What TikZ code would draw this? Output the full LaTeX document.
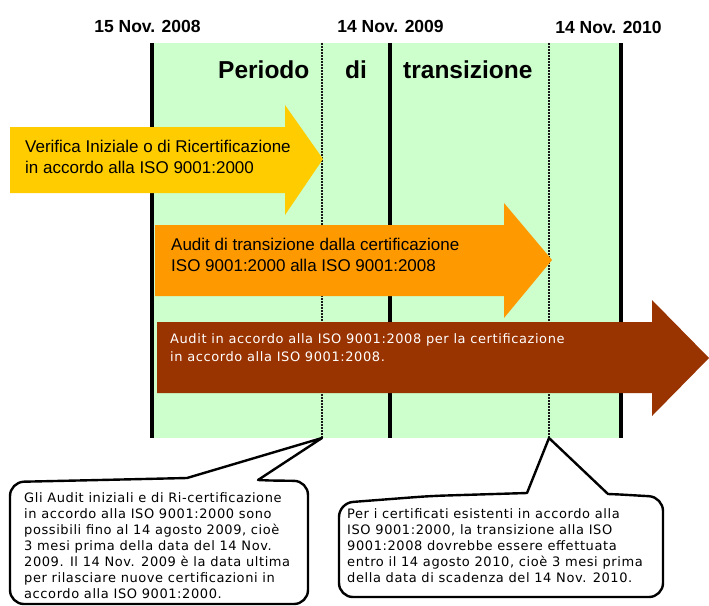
\documentclass[tikz,border=0pt]{standalone}
\usepackage{fontspec}
\setmainfont{Liberation Sans}
\newfontfamily\notefont[LetterSpace=4.5]{DejaVu Sans}
\definecolor{periodgreen}{HTML}{CCFFCC}
\definecolor{verifyyellow}{HTML}{FFCC00}
\definecolor{transorange}{HTML}{FF9900}
\definecolor{auditbrown}{HTML}{993300}

\begin{document}
\begin{tikzpicture}[x=1pt, y=-1pt,
    date/.style={font=\fontsize{17.5}{20}\selectfont\bfseries,
        anchor=base, inner sep=0pt},
    period/.style={font=\fontsize{24.5}{28}\selectfont\bfseries,
        anchor=base west, inner sep=0pt},
    bar/.style={line width=3.5pt, black},
    midline/.style={line width=1.2pt, black!90, dash pattern=on 2pt off 1pt},
    arrowtext/.style={font=\fontsize{17}{21}\selectfont,
        anchor=base west, inner sep=0pt, align=left},
    browntext/.style={font=\notefont\fontsize{13}{18}\selectfont, text=white,
        anchor=base west, inner sep=0pt, align=left},
    callout/.style={draw=black, line width=2.4pt, fill=white, line join=round},
    callouttext/.style={font=\notefont\fontsize{13}{16}\selectfont,
        anchor=base west, inner sep=0pt, align=left}
]
    \useasboundingbox[fill=white] (0,0) rectangle (709,605);

    % period band and date lines
    \fill[periodgreen] (152,43) rectangle (621,438);
    \foreach \x in {152,390,621}
        \draw[bar] (\x,43) -- (\x,438);
    \draw[midline] (322,43) -- (322,438) coordinate (tipA);
    \draw[midline] (549,43) -- (549,438) coordinate (tipB);

    \node[date] (d2008) at (147.5,32) {15 Nov. 2008};
    \node[date] (d2009) at (390.5,32) {14 Nov. 2009};
    \node[date] (d2010) at (608.5,33) {14 Nov. 2010};

    \node[period] (periodo) at (218,78) {Periodo};
    \node[period] (di) at (345,78) {di};
    \node[period] (transizione) at (403,78) {transizione};

    % block arrows (text nodes sit on the baseline of their last line)
    \fill[verifyyellow] (10,127) -- (285,127) -- (285,105) -- (323,159)
        -- (285,215) -- (285,193) -- (10,193) -- cycle;
    \node[arrowtext] (verifica) at (25,173)
        {Verifica Iniziale o di Ricertificazione\\in accordo alla ISO 9001:2000};

    \fill[transorange] (155,225) -- (504,225) -- (504,203) -- (552,260)
        -- (504,318) -- (504,296) -- (155,296) -- cycle;
    \node[arrowtext] (transaudit) at (171,271)
        {Audit di transizione dalla certificazione\\ISO 9001:2000 alla ISO 9001:2008};

    \fill[auditbrown] (157,322) -- (652,322) -- (652,300) -- (709,358)
        -- (652,416) -- (652,393) -- (157,393) -- cycle;
    \node[browntext] (newaudit) at (170,361)
        {Audit in accordo alla ISO 9001:2008 per la certificazione\\in accordo alla ISO 9001:2008.};

    % callouts
    \draw[callout] (100,480) [sharp corners] -- (187,478) -- (tipA) -- (258,480)
        -- (270,480.5) [rounded corners=14pt] -- (308,481) -- (308,604)
        -- (10,604) -- (10,482) -- cycle;
    \node[callouttext] (notaA) at (24,598)
        {Gli Audit iniziali e di Ri-certificazione\\in accordo alla ISO 9001:2000 sono\\possibili fino al 14 agosto 2009, cioè\\3 mesi prima della data del 14 Nov.\\2009. Il 14 Nov. 2009 è la data ultima\\per rilasciare nuove certificazioni in\\accordo alla ISO 9001:2000.};

    \draw[callout] (430,496) [sharp corners] -- (527,493) -- (tipB) -- (608,494)
        -- (620,494.5) [rounded corners=14pt] -- (663,497) -- (663,597)
        -- (339,597) -- (339,503) -- cycle;
    \node[callouttext] (notaB) at (347,582)
        {Per i certificati esistenti in accordo alla\\ISO 9001:2000, la transizione alla ISO\\9001:2008 dovrebbe essere effettuata\\entro il 14 agosto 2010, cioè 3 mesi prima\\della data di scadenza del 14 Nov. 2010.};
\end{tikzpicture}
\end{document}
